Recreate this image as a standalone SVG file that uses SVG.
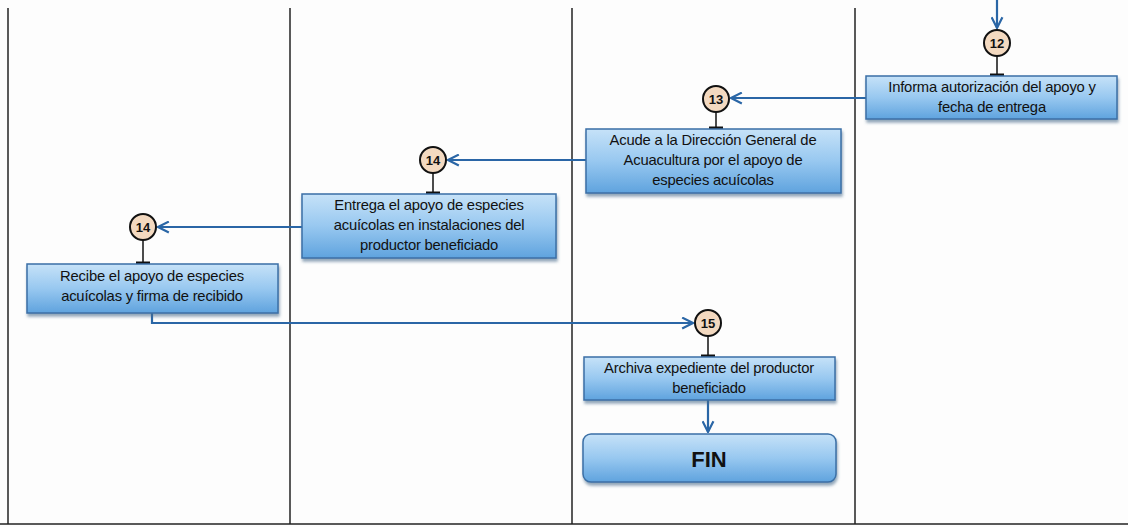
<svg xmlns="http://www.w3.org/2000/svg" width="1128" height="527" viewBox="0 0 1128 527">
<defs>
<linearGradient id="g" x1="0" y1="0" x2="0" y2="1">
<stop offset="0" stop-color="#c6e2f8"/>
<stop offset="0.5" stop-color="#98c8f0"/>
<stop offset="1" stop-color="#5fa3de"/>
</linearGradient>
<filter id="sh" x="-5%" y="-10%" width="110%" height="130%">
<feDropShadow dx="1" dy="3" stdDeviation="1.5" flood-color="#4a6c8c" flood-opacity="0.6"/>
</filter>
<marker id="ah" viewBox="0 0 12 12" refX="11" refY="6" markerWidth="13" markerHeight="13" markerUnits="userSpaceOnUse" orient="auto">
<path d="M1,1 L11,6 L1,11" fill="none" stroke="#2a66a6" stroke-width="2"/>
</marker>
</defs>
<style>
.lane{stroke:#222;stroke-width:1.5}
.box{fill:url(#g);stroke:#3b6fa6;stroke-width:1.5;filter:url(#sh)}
.t{font-family:"Liberation Sans",Arial,sans-serif;font-size:14.8px;fill:#111;text-anchor:middle;letter-spacing:-0.2px}
.c{fill:#f3d9c0;stroke:#111;stroke-width:2}
.cn{font-family:"Liberation Sans",sans-serif;font-size:13px;font-weight:bold;fill:#111;text-anchor:middle}
.con{fill:none;stroke:#2a66a6;stroke-width:2.2;marker-end:url(#ah)}
.tick{stroke:#111;stroke-width:1.5}
.bar{stroke:#111;stroke-width:3}
</style>
<rect width="1128" height="527" fill="#fdfdfd"/>
<g id="lanes">
<line class="lane" x1="8" y1="8" x2="8" y2="524"/>
<line class="lane" x1="290" y1="8" x2="290" y2="524"/>
<line class="lane" x1="572" y1="8" x2="572" y2="524"/>
<line class="lane" x1="855" y1="8" x2="855" y2="524"/>
<line class="lane" x1="0" y1="524" x2="1128" y2="524"/>
</g>
<g id="connectors">
<line class="con" x1="997" y1="0" x2="997" y2="28"/>
<line class="con" x1="866" y1="98" x2="731" y2="98"/>
<line class="con" x1="586" y1="160" x2="448" y2="160"/>
<line class="con" x1="302" y1="227" x2="158" y2="227"/>
<polyline class="con" points="152,313 152,323 693,323"/>
<line class="con" x1="708" y1="400" x2="708" y2="432"/>
</g>
<g id="n12">
<line class="tick" x1="997" y1="56" x2="997" y2="75"/>
<line class="bar" x1="990" y1="75" x2="1004" y2="75"/>
<rect class="box" x="866" y="76" width="251" height="43"/>
<text class="t" x="992" y="92">Informa autorización del apoyo y</text>
<text class="t" x="992" y="112">fecha de entrega</text>
<circle class="c" cx="997" cy="43" r="13"/>
<text class="cn" x="997" y="47.5">12</text>
</g>
<g id="n13">
<line class="tick" x1="716" y1="112" x2="716" y2="128"/>
<line class="bar" x1="709" y1="128" x2="723" y2="128"/>
<rect class="box" x="586" y="129" width="255" height="64"/>
<text class="t" x="713" y="145">Acude a la Dirección  General de</text>
<text class="t" x="713" y="165">Acuacultura por el apoyo de</text>
<text class="t" x="713" y="185">especies acuícolas</text>
<circle class="c" cx="716" cy="99" r="13"/>
<text class="cn" x="716" y="103.5">13</text>
</g>
<g id="n14a">
<line class="tick" x1="433" y1="173" x2="433" y2="193"/>
<line class="bar" x1="426" y1="193" x2="440" y2="193"/>
<rect class="box" x="302" y="194" width="254" height="64"/>
<text class="t" x="429" y="210">Entrega el  apoyo de especies</text>
<text class="t" x="429" y="230">acuícolas en instalaciones del</text>
<text class="t" x="429" y="250">productor beneficiado</text>
<circle class="c" cx="433" cy="160" r="13"/>
<text class="cn" x="433" y="164.5">14</text>
</g>
<g id="n14b">
<line class="tick" x1="143" y1="240" x2="143" y2="263"/>
<line class="bar" x1="136" y1="263" x2="150" y2="263"/>
<rect class="box" x="27" y="264" width="251" height="49"/>
<text class="t" x="152" y="281">Recibe el apoyo de especies</text>
<text class="t" x="152" y="301">acuícolas y firma de recibido</text>
<circle class="c" cx="143" cy="227" r="13"/>
<text class="cn" x="143" y="231.5">14</text>
</g>
<g id="n15">
<line class="tick" x1="708" y1="336" x2="708" y2="356"/>
<line class="bar" x1="701" y1="356" x2="715" y2="356"/>
<rect class="box" x="584" y="357" width="251" height="43"/>
<text class="t" x="709" y="373">Archiva expediente del productor</text>
<text class="t" x="709" y="393">beneficiado</text>
<circle class="c" cx="708" cy="323" r="13"/>
<text class="cn" x="708" y="327.5">15</text>
</g>
<g id="fin">
<rect class="box" x="583" y="434" width="253" height="48" rx="8"/>
<text x="709" y="467" font-family="'Liberation Sans',sans-serif" font-size="22" font-weight="bold" fill="#111" text-anchor="middle">FIN</text>
</g>
</svg>
